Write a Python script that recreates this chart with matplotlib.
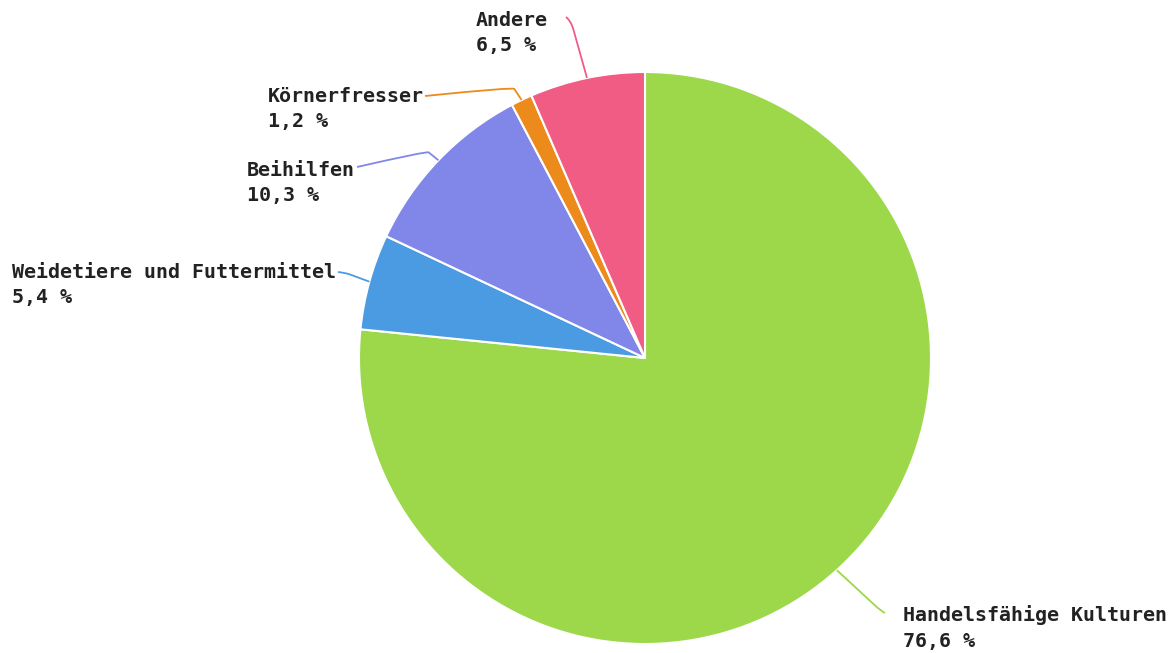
import numpy as np
import matplotlib.pyplot as plt
from matplotlib.path import Path
from matplotlib.patches import PathPatch

labels = ["Handelsfähige Kulturen", "Weidetiere und Futtermittel", "Beihilfen",
          "Körnerfresser", "Andere"]
shares = [76.6, 5.4, 10.3, 1.2, 6.5]
colors = ["#9cd84a", "#4b9be3", "#8187e8", "#ed8a1c", "#f15c85"]

# layout in pixel units (y measured from top)
W, H = 1175, 653
cx, cy, r = 645, 358, 286
text_pos = [(903, 615), (12, 272), (247, 170), (268, 96), (476, 20)]
line_end = [(885, 613), (338, 272), (357, 167), (425, 96), (566, 17)]
elbow = [(881, 611), (346, 273), (427, 151), (513, 87), (571, 21)]

fig = plt.figure(figsize=(W / 100, H / 100), dpi=100)
ax = fig.add_axes([0, 0, 1, 1])

ax.pie(shares, colors=colors, startangle=90, counterclock=False,
       center=(cx, H - cy), radius=r,
       wedgeprops=dict(edgecolor="white", linewidth=1.5))

ax.set_xlim(0, W)
ax.set_ylim(0, H)
ax.set_aspect("equal")
ax.axis("off")

cum = np.cumsum([0] + shares)
for i, lab in enumerate(labels):
    mid = np.deg2rad((cum[i] + cum[i + 1]) / 2 * 3.6)
    ax_x = cx + r * np.sin(mid)
    ax_y = cy - r * np.cos(mid)
    ex, ey = elbow[i]
    lx, ly = line_end[i]
    # a bit before the elbow, then curve to the label
    t = 0.85
    px = ax_x + (ex - ax_x) * t
    py = ax_y + (ey - ax_y) * t
    verts = [(ax_x, H - ax_y), (px, H - py), (ex, H - ey), (lx, H - ly)]
    codes = [Path.MOVETO, Path.LINETO, Path.CURVE3, Path.CURVE3]
    ax.add_patch(PathPatch(Path(verts, codes), fill=False,
                           edgecolor=colors[i], linewidth=1.3))
    tx, ty = text_pos[i]
    ax.text(tx, H - ty, lab, family="DejaVu Sans Mono", weight="bold",
            fontsize=14.4, va="center", ha="left", color="#222222")
    pct = f"{shares[i]:.1f}".replace(".", ",") + " %"
    ax.text(tx, H - ty - 26, pct, family="DejaVu Sans Mono", weight="bold",
            fontsize=14.4, va="center", ha="left", color="#222222")

fig.savefig("out.png", dpi=100)
